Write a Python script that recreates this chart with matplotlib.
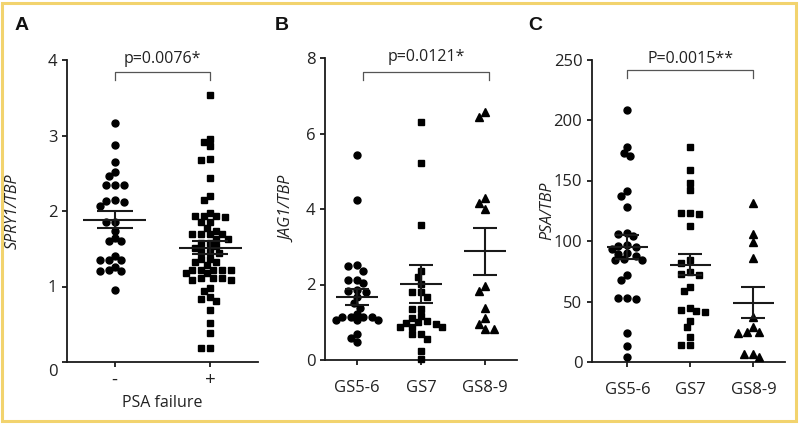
import matplotlib
matplotlib.use('Agg')
import matplotlib.pyplot as plt
import numpy as np
from matplotlib.patches import Rectangle

plt.rcParams['font.family'] = ['Open Sans', 'DejaVu Sans']

# ---------------- data ----------------
a_groups = ['-', '+']
a_minus = [3.16, 2.87, 2.65, 2.52, 2.46, 2.35, 2.35, 2.35, 2.14, 2.12, 2.07, 2.13,
           1.85, 1.85, 1.74, 1.60, 1.60, 1.64, 1.35, 1.35, 1.35, 1.41,
           1.26, 1.21, 1.21, 1.22, 0.95]
a_plus = [3.54, 2.92, 2.86, 2.96, 2.67, 2.69, 2.44, 2.14, 2.20,
          1.93, 1.93, 1.92, 1.93, 1.97, 1.85, 1.85, 1.74, 1.77,
          1.69, 1.69, 1.69, 1.69, 1.63, 1.63, 1.57, 1.58, 1.53, 1.51,
          1.46, 1.45, 1.46, 1.37, 1.37, 1.32, 1.29, 1.32,
          1.18, 1.22, 1.22, 1.22, 1.22, 1.22, 1.18,
          1.11, 1.09, 1.11, 1.09, 1.11, 0.94, 0.98, 0.81, 0.83, 0.86,
          0.69, 0.52, 0.39, 0.18, 0.19]
a_mean = [1.885, 1.515]
a_sem = [0.115, 0.085]

gs_groups = ['GS5-6', 'GS7', 'GS8-9']
b_gs56 = [5.43, 4.23, 2.51, 2.49, 2.36, 2.13, 2.13, 2.03, 1.85, 1.82, 1.81, 1.67,
          1.50, 1.39, 1.23, 1.13, 1.13, 1.13, 1.13, 1.05, 1.05, 1.05,
          0.70, 0.59, 0.48]
b_gs7 = [6.30, 5.21, 3.58, 2.35, 2.19, 2.02, 1.80, 1.80, 1.66, 1.35, 1.35,
         1.16, 1.11, 1.02, 1.00, 0.98, 0.96, 0.87, 0.87, 0.87, 0.69, 0.69,
         0.56, 0.25, 0.03]
b_gs89 = [6.43, 6.57, 4.28, 4.17, 4.00, 1.96, 1.84, 1.37, 1.11, 0.96, 0.82, 0.82]
b_mean = [1.665, 2.01, 2.88]
b_sem = [0.205, 0.495, 0.62]

c_gs56 = [208, 178, 173, 170, 141, 137, 128, 107, 106, 104, 97, 96, 95, 93,
          90, 89, 88, 85, 84, 84, 72, 68, 53, 53, 52, 24, 13, 4]
c_gs7 = [178, 159, 148, 142, 123, 123, 122, 112, 84, 82, 74, 73, 72, 62, 59,
         45, 43, 42, 41, 34, 29, 21, 14, 14]
c_gs89 = [131, 106, 99, 86, 37, 29, 25, 25, 24, 7, 4, 7]
c_mean = [95.0, 80.4, 49.0]
c_sem = [9.6, 8.5, 12.8]

# ---------------- helpers ----------------
W, H = 800, 424
fig = plt.figure(figsize=(W / 100, H / 100), dpi=100)

DARK = '#1a1a1a'
FS = 11.5


def swarm(vals, ppx, ppy, grid_px=3.0, dmin_px=6.6):
    """Beeswarm on a fine grid: closest free x offset to the centre."""
    vals = np.asarray(vals, float)
    order = np.argsort(-vals)
    placed = []
    offs = np.zeros(len(vals))
    cands = [0]
    for k in range(1, 25):
        cands += [-k, k]
    for i in order:
        y = vals[i] * ppy
        for k in cands:
            x = k * grid_px
            if all((x - qx) ** 2 + (y - qy) ** 2 >= dmin_px ** 2
                   for qx, qy in placed):
                break
        placed.append((x, y))
        offs[i] = x / ppx
    return offs


def make_axes(rect_px, xlim, ylim):
    l, r, t, b = rect_px
    ax = fig.add_axes([l / W, 1 - b / H, (r - l) / W, (b - t) / H])
    ax.set_xlim(*xlim)
    ax.set_ylim(*ylim)
    for s in ['top', 'right']:
        ax.spines[s].set_visible(False)
    for s in ['left', 'bottom']:
        ax.spines[s].set_linewidth(1.3)
        ax.spines[s].set_color(DARK)
    ax.tick_params(axis='both', colors=DARK, width=1.3, length=3.5,
                   labelsize=12, labelcolor='#222222')
    ppx = (r - l) / (xlim[1] - xlim[0])
    ppy = (b - t) / (ylim[1] - ylim[0])
    return ax, ppx, ppy


def draw_group(ax, x, vals, marker, ppx, ppy, mean, sem, ms=5.0):
    offs = swarm(vals, ppx, ppy)
    ax.plot(x + offs, vals, linestyle='none', marker=marker, ms=ms,
            color='black', mec='black', clip_on=False, zorder=3)
    ax.hlines(mean, x - 0.33, x + 0.33, color=DARK, lw=1.5, zorder=4)
    ax.vlines(x, mean - sem, mean + sem, color=DARK, lw=1.5, zorder=4)
    ax.hlines([mean - sem, mean + sem], x - 0.19, x + 0.19, color=DARK,
              lw=1.5, zorder=4)


def bracket(ax, x0, x1, ytop, ybot, ytext, label):
    ax.plot([x0, x0, x1, x1], [ybot, ytop, ytop, ybot], color='#555555',
            lw=0.9, clip_on=False)
    ax.text((x0 + x1) / 2, ytext, label, ha='center', va='baseline',
            fontsize=FS, color='#222222', clip_on=False)


# ---------------- panel A ----------------
axA, px, py = make_axes((67, 258, 60, 362), (-0.5, 1.5), (0, 4))
draw_group(axA, 0, a_minus, 'o', px, py, a_mean[0], a_sem[0])
draw_group(axA, 1, a_plus, 's', px, py, a_mean[1], a_sem[1], ms=4.8)
axA.set_xticks([0, 1])
axA.set_xticklabels(a_groups, fontsize=13.5)
axA.tick_params(axis='x', pad=3)
axA.set_yticks([0, 1, 2, 3, 4])
axA.set_yticklabels(['', '1', '2', '3', '4'])
axA.annotate('0', xy=(0, 0), xycoords=('axes fraction', 'data'),
             xytext=(-7, -7), textcoords='offset points', ha='right',
             va='center', fontsize=12, color='#222222')
axA.set_xlabel('PSA failure', fontsize=FS, labelpad=4, color='#222222')
axA.set_ylabel('SPRY1/TBP', fontsize=FS, style='italic', color='#222222')
axA.yaxis.set_label_coords(-0.245, 0.5)
bracket(axA, 0, 1, 3.84, 3.74, 3.96, 'p=0.0076*')

# ---------------- panel B ----------------
axB, px, py = make_axes((325, 517, 58, 360), (-0.5, 2.5), (0, 8))
draw_group(axB, 0, b_gs56, 'o', px, py, b_mean[0], b_sem[0])
draw_group(axB, 1, b_gs7, 's', px, py, b_mean[1], b_sem[1], ms=4.8)
draw_group(axB, 2, b_gs89, '^', px, py, b_mean[2], b_sem[2], ms=5.2)
axB.set_xticks([0, 1, 2])
axB.set_xticklabels(gs_groups)
axB.tick_params(axis='x', pad=11)
axB.set_yticks([0, 2, 4, 6, 8])
axB.set_ylabel('JAG1/TBP', fontsize=FS, style='italic', color='#222222')
axB.yaxis.set_label_coords(-0.15, 0.5)
bracket(axB, 0.09, 2.07, 7.62, 7.42, 7.92, 'p=0.0121*')

# ---------------- panel C ----------------
axC, px, py = make_axes((592, 785, 59.5, 362), (-0.56, 2.5), (0, 250))
draw_group(axC, 0, c_gs56, 'o', px, py, c_mean[0], c_sem[0])
draw_group(axC, 1, c_gs7, 's', px, py, c_mean[1], c_sem[1], ms=4.8)
draw_group(axC, 2, c_gs89, '^', px, py, c_mean[2], c_sem[2], ms=5.2)
axC.set_xticks([0, 1, 2])
axC.set_xticklabels(gs_groups)
axC.tick_params(axis='x', pad=11)
axC.set_yticks([0, 50, 100, 150, 200, 250])
axC.set_ylabel('PSA/TBP', fontsize=FS, style='italic', color='#222222')
axC.yaxis.set_label_coords(-0.19, 0.5)
bracket(axC, 0, 2, 241, 235, 247, 'P=0.0015**')

# ---------------- panel letters & frame ----------------
for x, letter in [(15, 'A'), (275, 'B'), (528, 'C')]:
    fig.text(x / W, 1 - 17 / H, letter, ha='left', va='top', fontsize=14,
             fontweight='bold', family=['Liberation Sans', 'DejaVu Sans'],
             color='#111111')

fig.add_artist(Rectangle((2 / W, 3 / H), 794 / W, 418 / H,
                         transform=fig.transFigure, fill=False,
                         ec='#f2d36e', lw=2.2))

fig.savefig('out.png', dpi=100)
